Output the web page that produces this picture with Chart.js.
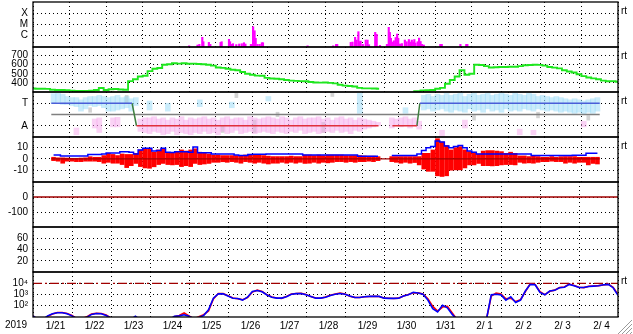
<!DOCTYPE html>
<html>
<head>
<meta charset="utf-8">
<script src="https://cdn.jsdelivr.net/npm/chart.js@4.4.1/dist/chart.umd.min.js"></script>
<style>
  html, body { margin: 0; padding: 0; background: #fff; }
  #wrap { position: relative; width: 633px; height: 334px; }
  #wrap canvas { position: absolute; left: 0; top: 0; }
</style>
</head>
<body>
<div id="wrap"></div>
<script>
// ---- axis text ----
const dayLabels = ['1/21','1/22','1/23','1/24','1/25','1/26','1/27','1/28','1/29','1/30','1/31','2/ 1','2/ 2','2/ 3','2/ 4'];
const yearLabel = '2019';

// ---- x-ray events: day offset, log10 flux ----
const xrayDays = [3.77,4.00,4.05,4.13,4.16,4.31,4.35,4.63,4.66,4.86,4.89,4.93,4.97,5.06,5.14,5.21,5.27,5.31,5.46,5.52,
  5.56,5.59,5.64,5.70,5.76,5.79,7.01,7.71,7.79,7.82,8.19,8.24,8.31,8.35,8.40,8.43,8.46,8.52,8.60,8.65,
  8.69,8.86,8.90,8.99,9.18,9.23,9.26,9.29,9.33,9.37,9.42,9.46,9.49,9.54,9.59,9.67,9.72,9.78,9.82,9.86,
  9.90,9.93,9.96,10.02,10.06,10.10,10.14,10.19,10.64,10.68,11.19,11.35,11.38];
const xrayLevel = [-6.95,-6.88,-6.82,-6.18,-6.58,-6.64,-6.82,-6.64,-6.58,-6.36,-6.58,-6.82,-6.76,-6.84,-6.79,-6.76,-6.67,-6.79,-6.82,-5.22,
  -5.58,-6.27,-6.82,-6.82,-6.67,-6.67,-6.95,-6.95,-6.82,-6.82,-6.64,-6.61,-6.18,-6.43,-5.67,-6.58,-6.52,-6.82,-6.43,-6.43,
  -6.85,-5.73,-5.91,-6.91,-6.82,-5.27,-5.73,-6.27,-6.61,-6.49,-6.20,-5.88,-6.27,-6.79,-6.75,-6.43,-6.58,-6.38,-6.61,-6.43,
  -6.61,-6.38,-6.70,-6.58,-6.25,-6.56,-6.82,-6.88,-6.82,-6.82,-6.82,-6.82,-6.82];
const xrayTicks = [-4, -5, -6];
const xrayTickText = ['X', 'M', 'C'];

// ---- solar wind speed, every 3 h from 1/21 00:00 ----
const speed = [338,336,336,334,325,322,322,320,315,311,311,312,313,322,344,322,330,333,328,325,
  420,440,470,479,530,556,564,600,605,616,612,616,610,612,608,605,600,590,570,565,
  555,545,540,520,500,490,480,478,455,448,445,440,432,425,422,420,418,410,405,403,
  404,400,395,380,370,366,360,345,340,340,338,335,null,null,null,null,null,null,308,310,
  318,319,322,336,345,390,432,470,540,490,500,600,597,585,570,572,575,575,578,577,
  585,595,597,600,598,590,575,568,560,540,525,515,495,475,460,450,440,425,418,420,412];
const speedTicks = [700, 600, 500, 400];

// ---- sector polarity (T = +1, A = -1) ----
const towardSpans = [[0, 2.21], [10.08, 15]];
const awaySpans = [[2.33, 8.95], [9.33, 10.0]];
const sectorTurns = [[2.21, 1, 2.33, -1], [10.0, -1, 10.08, 1]];
// scatter of the polarity estimate per 3 h bin [low, high]
const towardScatter = [[1.0,1.85],[1.1,1.9],[0.9,1.8],[0.9,1.6],[0.8,1.5],[0.7,1.5],[0.3,1.3],[0.5,1.5],[0.8,1.6],[0.7,1.6],
  [0.8,1.7],[0.6,1.6],[0.3,1.5],[0.3,1.6],[0.4,1.7],[0.5,1.5],[0.6,1.6],[0.3,1.4],[0.8,1.5],null,
  null,[0.4,1.2],null,null,null,[0.3,1.0],null,null,null,null,
  null,null,[0.7,1.3],null,null,null,null,null,null,[0.6,1.1],
  null,null,null,null,null,null,null,[1.2,1.6],null,null,
  null,null,null,null,null,null,null,null,null,null,
  null,null,null,null,null,null,null,[0.1,1.9],null,null,
  null,null,null,null,null,null,null,[0.1,0.6],null,null,
  null,[0.4,1.7],[0.5,1.8],[0.3,1.6],[0.4,1.8],[0.5,1.7],[0.3,1.9],[0.2,1.7],[0.4,1.8],[0.3,1.9],
  [0.2,1.6],[0.5,1.8],[0.3,1.9],[0.4,1.7],[0.2,1.8],[0.5,1.9],[0.3,1.7],[0.4,1.8],[0.2,1.9],[0.5,1.8],
  [0.3,1.7],[0.4,1.9],[0.3,1.8],[0.5,1.7],[0.4,1.9],[0.3,1.8],[0.5,1.6],[0.4,1.7],[0.3,1.6],[0.4,1.5],
  [0.3,1.6],[0.2,1.5],[0.3,1.4],[0.2,1.3],[0.1,1.4],[0.2,1.3],[0.0,1.2],[0.2,1.3],[0.1,1.4],[0.3,1.5]];
const awayScatter = [null,null,null,null,null,[-1.8,-1.2],null,null,null,[-1.2,-0.4],
  [-1.6,-0.3],null,null,[-1.1,-0.3],[-1.1,-0.25],null,null,null,null,[-1.5,-0.4],
  [-1.6,-0.3],[-1.7,-0.3],[-1.5,-0.2],[-1.6,-0.4],[-1.8,-0.3],[-1.7,-0.5],[-1.5,-0.3],[-1.8,-0.4],[-1.6,-0.2],[-1.7,-0.5],
  [-1.8,-0.3],[-1.6,-0.4],[-1.7,-0.3],[-1.5,-0.2],[-1.7,-0.4],[-1.6,-0.3],[-1.8,-0.5],[-1.5,-0.3],[-1.7,-0.2],[-1.6,-0.4],
  [-1.4,-0.3],[-1.7,-0.3],[-1.6,-0.5],[-1.5,-0.2],[-1.7,-0.3],[-1.6,-0.4],[-1.5,-0.3],[-1.6,-0.2],[-1.7,-0.3],[-1.5,-0.4],
  [-1.6,-0.2],[-1.7,-0.3],[-1.5,-0.5],[-1.6,-0.3],[-1.4,-0.2],[-1.7,-0.4],[-1.6,-0.3],[-1.5,-0.3],[-1.7,-0.2],[-1.6,-0.4],
  [-1.5,-0.3],[-1.6,-0.5],[-1.4,-0.3],[-1.6,-0.2],[-1.5,-0.4],[-1.7,-0.3],[-1.4,-0.5],[-1.5,-0.3],[-1.3,-0.4],[-1.2,-0.5],
  [-1.1,-0.6],[-1.0,-0.7],null,null,[-1.2,-0.3],[-1.0,-0.4],[-1.1,-0.3],[-0.9,-0.2],[-1.2,-0.4],[-1.0,-0.3],
  [-1.3,-0.6],null,null,null,null,[-1.9,-1.4],null,null,null,null,
  [-1.2,-0.5],null,null,null,null,null,null,null,null,null,
  null,null,[-1.8,-1.3],null,null,[-1.8,-1.4],null,null,null,null,
  null,null,null,null,null,null,[-1.1,-0.6],null,null,null];
const greyBins = [8, 16, 37, 40, 44, 49, 59, 61, 92, 106, 117];
const greyScatter = [[0.2,0.6],[1.0,1.7],[-1.6,-1.0],[1.5,1.9],[-1.6,-0.5],[-0.2,0.2],[-1.6,-0.7],[1.6,1.9],[-0.5,-0.1],[-0.3,0.2],[-0.5,-0.1]];

// ---- IMF, 3 h bins: Bz range and Bt ----
const bzLow = [-1.5,-2,-3.8,-2,-2,-2.4,-2.4,-2,-2,-2,-2.4,-3.8,-3,-3.8,-3.8,-5,-7.7,-6,-4,-6.8,
  -8,-8.3,-7,-5,-4,-5,-5.3,-5,-6.8,-6,-6.8,-4,-5,-4.5,-4,-3,-3,-2.5,-3,-2.4,
  -3,-3.8,-2.4,-3,-3.8,-3,-3.8,-4.5,-3.8,-3.8,-3,-3.8,-3,-3.8,-3,-4,-3.8,-3,-3.8,-3,
  -3.5,-3,-2.4,-2.4,-3,-2.4,-3,-2.4,-2.4,-2,-2.4,-1.5,null,null,-2.4,-3,-3.8,-3,-3.8,-3.2,
  -5.3,-9,-11,-11,-15,-15.6,-15,-10,-9.7,-9.7,-8,-5.3,-5.3,-4,-6,-6,-6.2,-6,-5.3,-5,
  -5,-5.3,-3,-3.8,-3.5,-3.8,-3,-2.4,-2.4,-2,-2.4,-2.4,-3.8,-3,-3.8,-3,-3,-5.3,-4,-4.5];
const bzHigh = [1.5,1,1,0.8,0.6,0.6,0.8,1,2,1.5,1.5,3,5,4,3,4.4,4,4,5,8,
  9.4,9,6,8,9.4,5,5,6,8,7,8,9,6,5,4.4,3.5,3.5,3,3,3,
  3,3,3.5,3.5,3.5,3.5,3,2.5,2.1,2.1,2.1,2.1,2.5,2.1,2.1,3.5,3.5,3,3.5,3,
  3.5,3.5,3.5,3.5,3,3,3,3,2.7,2.5,2.5,2,null,null,2.1,2.1,2.1,2.1,2.1,2.1,
  2.1,5,5,8,18,15,12,8,10,10.9,8,6.5,6,4.4,7,7.4,7.4,7,6.5,5,
  6,5,2.7,2.7,2.1,2.7,2.1,1.5,1.5,2.1,1.5,2,2.1,2.1,2.1,1.5,1.5,1.5,1.5,1.5];
const bt = [3.5,3.5,2.7,2.7,2.7,2.7,2.7,2.7,4,4,4,4.4,5.3,5.3,5.3,6.5,6.5,6,4.4,8,
  9.4,9.4,7,7.5,9.4,6,5.7,6.5,6.5,6.5,6,10.6,5.6,5.6,5.6,4.4,4.4,4.4,4.4,4.4,
  3.5,3,3,4,4.1,4.1,4.1,4.4,4.4,4.4,4.4,4.4,4.4,4.4,4.4,3.5,3.5,3.5,3.5,3.5,
  3.5,3.5,3.5,3.5,3.5,3.5,3.5,2.4,2.4,2.4,2.4,2.4,null,null,3,3,3,3,3,3,
  4.4,7.4,10,11,16,15,11.5,10,11,12,10,7,6,4.5,4.3,4.3,4.5,4.5,4.3,4.3,
  4.3,4.3,4.4,4.4,4.4,3,3,3,3,3,3,3,3,3,3.3,3.3,3.3,5,5,5];
const bTicks = [10, 0, -10];
const dstTicks = [0, -100];
const p6Ticks = [60, 40, 20];

// ---- electron flux, every 3 h ----
const fluxBlue = [11,5,5,11,17,21,21,17,11,6, 6,8,15,18,17,12,7,5,5,5, 5,10,5,5,5,5,5,5,5,10,
  11,14,10,6,8,12,40,450,1100,1100, 700,440,420,300,550,1800,2200,1700,870,540,
  450,450,600,1000,1150,1200,900,650,450,450, 550,800,1000,1200,1000,700,520,520,600,650,
  650,650,450,430,430,440,700,900,1500,1300, 1000,300,50,25,100,60,15,5,5,5,
  5,5,5,5,900,1000,900,300,600,180, 300,2000,8000,7500,1500,900,2000,2300,4000,4400,
  8000,6000,4200,4200,5200,5600,6000,7500,8000,4000, 800];
const fluxRed = [11,5,5,10,16,22,22,18,12,6, 6,9,16,19,18,13,7,5,5,5, 5,9,5,5,5,5,5,5,5,9,
  12,20,11,6,9,14,30,380,1200,1150, 750,460,400,320,500,1600,2400,1800,900,560,
  460,430,650,1050,1200,1250,950,620,470,440, 560,820,1050,1300,1050,680,530,510,610,640,
  660,640,460,440,420,450,720,950,1400,1350, 1100,400,80,30,70,80,20,5,5,5,
  5,5,5,5,700,1300,1100,400,450,220, 320,1800,9000,8000,1700,950,1900,2400,4200,4600,
  8500,6200,4400,4100,5400,5800,6200,7000,8500,4300, 1000];
const fluxTicks = [1e4, 1e3, 1e2];
const fluxTickText = ['10\u2074', '10\u00b3', '10\u00b2'];
const fluxAlert = 1e4;

// ---- helpers ----
const W = 633, H = 334;
const PANEL_TOP = 2, PANEL_H = 45, AXIS_W = 33, RIGHT_PAD = 15, XLABEL_H = 17;
const STEP = 1 / 8;               // 3 hours, in days
const DAYS = dayLabels.length;
const XRAY_FLOOR = -7.06;
const FONT = { family: '"Liberation Sans", Arial, sans-serif', size: 10 };

const atHour = arr => arr.map((v, i) => ({ x: i * STEP, y: v }));
const inBin = arr => arr.map((v, i) => ({ x: (i + 0.5) * STEP, y: v }));
const flat = level => [{ x: 0, y: level }, { x: DAYS, y: level }];
function spans(list, level) {
  const pts = [];
  list.forEach(([a, b]) => pts.push({ x: a, y: level }, { x: b, y: level }, { x: b, y: null }));
  return pts;
}
function turns(list) {
  const pts = [];
  list.forEach(([a, ya, b, yb]) => pts.push({ x: a, y: ya }, { x: b, y: yb }, { x: b, y: null }));
  return pts;
}

function line(data, color, width, extra) {
  return Object.assign({ type: 'line', data, borderColor: color, borderWidth: width,
    pointRadius: 0, spanGaps: false, tension: 0, fill: false }, extra || {});
}
function bars(data, color, thickness) {
  return { type: 'bar', data, backgroundColor: color, borderWidth: 0,
    barThickness: thickness, grouped: false };
}

const wrap = document.getElementById('wrap');

function makePanel(index, yAxis, datasets, rt) {
  const bottom = index === 6;
  const canvas = document.createElement('canvas');
  canvas.width = W; canvas.height = H;
  wrap.appendChild(canvas);
  const top = PANEL_TOP + index * PANEL_H;
  const padBottom = bottom ? 0 : H - (top + PANEL_H);

  const frame = {
    id: 'frame' + index,
    afterDraw(chart) {
      const { ctx, chartArea: a } = chart;
      ctx.save();
      ctx.strokeStyle = '#000';
      ctx.lineWidth = 1.3;
      ctx.strokeRect(a.left, a.top, a.right - a.left, a.bottom - a.top);
      ctx.fillStyle = '#000';
      ctx.font = '10px "Liberation Sans", Arial, sans-serif';
      ctx.textBaseline = 'middle';
      if (rt) {
        ctx.textAlign = 'left';
        ctx.fillText('rt', a.right + 3, a.top + 9);
      }
      if (bottom) {
        ctx.textAlign = 'center';
        ctx.fillText(yearLabel, 16, a.bottom + 8.5);
        // window resize grip in the corner
        ctx.strokeStyle = '#9a9a9a';
        ctx.lineWidth = 1;
        [0, 4, 8, 12].forEach(o => {
          ctx.beginPath();
          ctx.moveTo(W - 1, H - 14 + o);
          ctx.lineTo(W - 15 + o, H);
          ctx.stroke();
        });
      }
      ctx.restore();
    }
  };

  return new Chart(canvas, {
    data: { datasets },
    options: {
      responsive: false,
      animation: false,
      devicePixelRatio: 1,
      events: [],
      layout: { padding: { top, right: RIGHT_PAD, left: 0, bottom: padBottom } },
      plugins: { legend: { display: false }, tooltip: { enabled: false } },
      scales: {
        x: {
          type: 'linear', position: 'bottom', min: 0, max: DAYS,
          afterFit: s => { s.height = bottom ? XLABEL_H : 0; s.paddingLeft = 0; s.paddingRight = 0; },
          afterBuildTicks: s => { s.ticks = dayLabels.map((_, i) => ({ value: i })).concat([{ value: DAYS }]); },
          ticks: { display: bottom, autoSkip: false, maxRotation: 0, labelOffset: 22.5, padding: 3,
            font: FONT, color: '#000', callback: (v, i) => dayLabels[i] || '' },
          grid: { color: '#000', lineWidth: 1, drawTicks: false },
          border: { display: false, dash: [1, 3] }
        },
        y: Object.assign({
          position: 'left',
          afterFit: s => { s.width = AXIS_W; s.paddingTop = 0; s.paddingBottom = 0; },
          afterBuildTicks: s => { s.ticks = yAxis.ticks.map(v => ({ value: v })); },
          ticks: { autoSkip: false, padding: 5, font: FONT, color: '#000',
            callback: (v, i) => yAxis.text ? yAxis.text[i] : String(yAxis.ticks[i]) },
          grid: { color: '#000', lineWidth: 1, drawTicks: false },
          border: { display: false, dash: [1, 3] }
        }, { type: yAxis.type || 'linear', min: yAxis.min, max: yAxis.max })
      }
    },
    plugins: [frame]
  });
}

// 1: x-ray class
makePanel(0, { min: XRAY_FLOOR, max: -2.97, ticks: xrayTicks, text: xrayTickText }, [
  bars(xrayDays.map((d, i) => ({ x: d, y: [XRAY_FLOOR, xrayLevel[i]] })), '#ff00ff', 1.5)
], true);

// 2: solar wind speed
makePanel(1, { min: 300, max: 795, ticks: speedTicks }, [
  line(atHour(speed), '#1ee61e', 1.9, { stepped: 'middle' })
], true);

// 3: sector polarity
makePanel(2, { min: -2, max: 2, ticks: [1, -1], text: ['T', 'A'] }, [
  line(spans(towardSpans, 1), '#4a5ed8', 1.5),
  line(spans(awaySpans, -1), '#e0303c', 1.5),
  line(turns(sectorTurns), '#3f7f3f', 1.5),
  line(flat(0), '#808080', 1.5),
  bars(inBin(towardScatter), 'rgba(150,218,248,0.5)', 5),
  bars(inBin(awayScatter), 'rgba(246,165,236,0.5)', 5),
  bars(greyBins.map((b, i) => ({ x: (b + 0.5) * STEP, y: greyScatter[i] })), 'rgba(170,170,170,0.5)', 3)
], true);

// 4: IMF Bt / Bz
makePanel(3, { min: -20.5, max: 19.5, ticks: bTicks }, [
  line(inBin(bt), '#0000ff', 1.5, { stepped: 'middle' }),
  line(flat(0), '#a00000', 1.3),
  bars(bzLow.map((lo, i) => ({ x: (i + 0.5) * STEP, y: lo === null ? null : [lo, bzHigh[i]] })), '#ff0000', 4)
], true);

// 5: index panel (zero line only)
makePanel(4, { min: -200, max: 100, ticks: dstTicks }, [
  line(flat(0), '#a00000', 1.3)
], false);

// 6: empty panel
makePanel(5, { min: 0, max: 80, ticks: p6Ticks }, [], false);

// 7: electron flux
makePanel(6, { type: 'logarithmic', min: 8.7, max: 1.07e5, ticks: fluxTicks, text: fluxTickText }, [
  line(atHour(fluxBlue), '#0000ff', 1.6),
  line(atHour(fluxRed), '#ff0000', 1.6),
  line(flat(fluxAlert), '#a00000', 1.3, { borderDash: [9, 3, 2, 3] })
], true);
</script>
</body>
</html>
